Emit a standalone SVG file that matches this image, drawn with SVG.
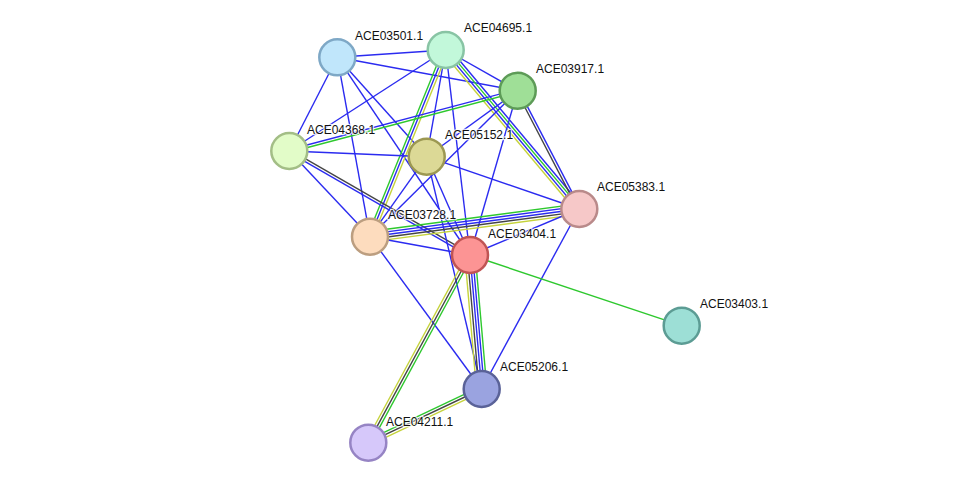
<svg xmlns="http://www.w3.org/2000/svg" width="975" height="489" viewBox="0 0 975 489">
<style>
line{stroke-width:1.4;fill:none}
.b{stroke:#2b2bf0}
.g{stroke:#2ec82e}
.y{stroke:#c5d33b}
.k{stroke:#454545}
circle{stroke-width:2.5}
text{font-family:"Liberation Sans",Arial,sans-serif;font-size:12px;fill:#111;stroke:#fff;stroke-width:2.5;stroke-opacity:0.75;paint-order:stroke;stroke-linejoin:round}
</style>
<rect width="975" height="489" fill="#fff"/>
<g id="connectors">
<line class="b" x1="337.3" y1="57.3" x2="445.7" y2="50"/>
<line class="b" x1="337.3" y1="57.3" x2="517.7" y2="90.7"/>
<line class="b" x1="337.3" y1="57.3" x2="289.3" y2="151"/>
<line class="b" x1="337.3" y1="57.3" x2="426.7" y2="156.7"/>
<line class="b" x1="337.3" y1="57.3" x2="370" y2="236.7"/>
<line class="b" x1="337.3" y1="57.3" x2="470" y2="255"/>
<line class="b" x1="445.7" y1="50" x2="517.7" y2="90.7"/>
<line class="b" x1="445.7" y1="50" x2="289.3" y2="151"/>
<line class="b" x1="445.7" y1="50" x2="426.7" y2="156.7"/>
<line class="b" x1="445.7" y1="50" x2="470" y2="255"/>
<line class="g" x1="445.7" y1="50" x2="370" y2="236.7" transform="translate(-2.41,-0.98)"/>
<line class="b" x1="445.7" y1="50" x2="370" y2="236.7"/>
<line class="y" x1="445.7" y1="50" x2="370" y2="236.7" transform="translate(2.41,0.98)"/>
<line class="b" x1="445.7" y1="50" x2="579.3" y2="209" transform="translate(2.99,-2.51)"/>
<line class="g" x1="445.7" y1="50" x2="579.3" y2="209" transform="translate(1,-0.84)"/>
<line class="b" x1="445.7" y1="50" x2="579.3" y2="209" transform="translate(-1,0.84)"/>
<line class="y" x1="445.7" y1="50" x2="579.3" y2="209" transform="translate(-2.99,2.51)"/>
<line class="k" x1="517.7" y1="90.7" x2="579.3" y2="209" transform="translate(-1.15,0.6)"/>
<line class="b" x1="517.7" y1="90.7" x2="579.3" y2="209" transform="translate(1.15,-0.6)"/>
<line class="b" x1="517.7" y1="90.7" x2="289.3" y2="151" transform="translate(-0.33,-1.26)"/>
<line class="g" x1="517.7" y1="90.7" x2="289.3" y2="151" transform="translate(0.33,1.26)"/>
<line class="b" x1="517.7" y1="90.7" x2="426.7" y2="156.7"/>
<line class="b" x1="517.7" y1="90.7" x2="370" y2="236.7"/>
<line class="b" x1="517.7" y1="90.7" x2="470" y2="255"/>
<line class="b" x1="289.3" y1="151" x2="426.7" y2="156.7"/>
<line class="b" x1="289.3" y1="151" x2="370" y2="236.7"/>
<line class="k" x1="289.3" y1="151" x2="470" y2="255" transform="translate(0.65,-1.13)"/>
<line class="b" x1="289.3" y1="151" x2="470" y2="255" transform="translate(-0.65,1.13)"/>
<line class="b" x1="426.7" y1="156.7" x2="579.3" y2="209"/>
<line class="b" x1="426.7" y1="156.7" x2="370" y2="236.7"/>
<line class="b" x1="426.7" y1="156.7" x2="470" y2="255"/>
<line class="b" x1="426.7" y1="156.7" x2="481.7" y2="389"/>
<line class="g" x1="370" y1="236.7" x2="579.3" y2="209" transform="translate(-0.68,-5.16)"/>
<line class="b" x1="370" y1="236.7" x2="579.3" y2="209" transform="translate(-0.34,-2.58)"/>
<line class="b" x1="370" y1="236.7" x2="579.3" y2="209"/>
<line class="k" x1="370" y1="236.7" x2="579.3" y2="209" transform="translate(0.34,2.58)"/>
<line class="y" x1="370" y1="236.7" x2="579.3" y2="209" transform="translate(0.68,5.16)"/>
<line class="b" x1="370" y1="236.7" x2="470" y2="255"/>
<line class="b" x1="370" y1="236.7" x2="481.7" y2="389"/>
<line class="b" x1="470" y1="255" x2="579.3" y2="209"/>
<line class="b" x1="579.3" y1="209" x2="481.7" y2="389"/>
<line class="g" x1="470" y1="255" x2="681.7" y2="325.7"/>
<line class="y" x1="470" y1="255" x2="481.7" y2="389" transform="translate(-5.18,0.45)"/>
<line class="k" x1="470" y1="255" x2="481.7" y2="389" transform="translate(-2.59,0.23)"/>
<line class="b" x1="470" y1="255" x2="481.7" y2="389"/>
<line class="b" x1="470" y1="255" x2="481.7" y2="389" transform="translate(2.59,-0.23)"/>
<line class="g" x1="470" y1="255" x2="481.7" y2="389" transform="translate(5.18,-0.45)"/>
<line class="y" x1="470" y1="255" x2="368.3" y2="442.7" transform="translate(-2.29,-1.24)"/>
<line class="k" x1="470" y1="255" x2="368.3" y2="442.7"/>
<line class="g" x1="470" y1="255" x2="368.3" y2="442.7" transform="translate(2.29,1.24)"/>
<line class="g" x1="481.7" y1="389" x2="368.3" y2="442.7" transform="translate(-1.11,-2.35)"/>
<line class="k" x1="481.7" y1="389" x2="368.3" y2="442.7"/>
<line class="y" x1="481.7" y1="389" x2="368.3" y2="442.7" transform="translate(1.11,2.35)"/>
</g>
<g id="ACE03501.1"><circle cx="337.3" cy="57.3" r="18" fill="#c0e6fb" stroke="#7ea8c6"/><text x="355" y="40">ACE03501.1</text></g>
<g id="ACE04695.1"><circle cx="445.7" cy="50" r="18" fill="#c2f8da" stroke="#88c4a4"/><text x="464" y="32">ACE04695.1</text></g>
<g id="ACE03917.1"><circle cx="517.7" cy="90.7" r="18" fill="#9fdf97" stroke="#5d9b57"/><text x="536" y="73">ACE03917.1</text></g>
<g id="ACE04368.1"><circle cx="289.3" cy="151" r="18" fill="#e2fcc8" stroke="#a3be86"/><text x="307" y="134">ACE04368.1</text></g>
<g id="ACE05152.1"><circle cx="426.7" cy="156.7" r="18" fill="#dcd996" stroke="#9c9852"/><text x="445" y="139">ACE05152.1</text></g>
<g id="ACE05383.1"><circle cx="579.3" cy="209" r="18" fill="#f6c8c8" stroke="#b98a8a"/><text x="597" y="191">ACE05383.1</text></g>
<g id="ACE03728.1"><circle cx="370" cy="236.7" r="18" fill="#fddcbe" stroke="#bc9e80"/><text x="388" y="219">ACE03728.1</text></g>
<g id="ACE03404.1"><circle cx="470" cy="255" r="18" fill="#fc9494" stroke="#c05454"/><text x="488" y="238">ACE03404.1</text></g>
<g id="ACE03403.1"><circle cx="681.7" cy="325.7" r="18" fill="#9ddfd6" stroke="#5c9c94"/><text x="700" y="308">ACE03403.1</text></g>
<g id="ACE05206.1"><circle cx="481.7" cy="389" r="18" fill="#9aa3e0" stroke="#5a6298"/><text x="500" y="371">ACE05206.1</text></g>
<g id="ACE04211.1"><circle cx="368.3" cy="442.7" r="18" fill="#d6c8fa" stroke="#9684c4"/><text x="386" y="426">ACE04211.1</text></g>
</svg>
